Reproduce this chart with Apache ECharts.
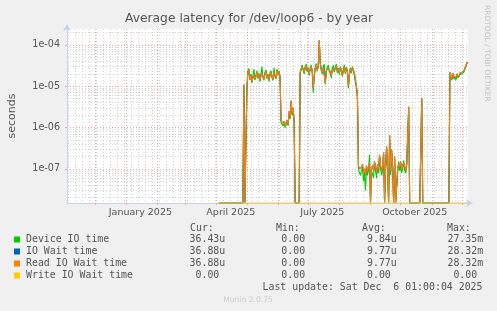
<!DOCTYPE html>
<html>
<head>
<meta charset="utf-8">
<title>Average latency for /dev/loop6 - by year</title>
<script src="https://cdn.jsdelivr.net/npm/echarts@6/dist/echarts.min.js"></script>
<style>
html, body { margin: 0; padding: 0; background: #f0f0f0; }
#main { width: 497px; height: 311px; }
</style>
</head>
<body>
<div id="main"></div>
<script>
// daily averages in microseconds, first value is dataStart, one per day
var dataStart = '2025-04-03';

var deviceIO = [
  0,0,0,0,0,0,0,0,0,0,0,0,0,0,0,0,0,0,0,0,0,0,0,0,0,
  10,0,0,8,24,27,
  16,20,12,18,26,14,19,24,15,21,13,20,30,16,14,22,25,15,20,13,21,24,16,14,28,17,15,26,18,24,16,
  1.3,1.2,1.1,1.3,1.0,1.2,1.4,1.1,
  2.2,1.6,4.0,2.0,2.6,1.3,
  0,0,0,0,0,
  20,
  27,33,24,20,30,35,22,29,18,28,33,22,7,16,29,36,23,31,125,38,24,20,30,34,11,22,29,
  33,23,20,16,28,32,22,29,35,21,28,19,30,23,17,26,33,20,29,22,9,18,28,21,30,23,18,
  12,9,5,
  0.10,0.08,0.07,0.09,0.11,0.05,0.08,0.03,0.10,0.07,0.09,0.22,
  0,
  0.09,0.10,0.06,0.14,0.09,0.06,0.11,0.08,0.20,0.10,0.07,0.09,0.23,
  0,
  0.10,0.32,0.08,0,0.60,0.07,0.30,0.09,
  0,0.18,0,0,0.08,
  0.15,0.09,0.13,0.08,0.10,0.16,0.09,0.08,0.11,0.10,
  3.0,
  0,0,0,0,0,0,0,0,0,0,0,0,
  5.0,
  0,0,0,0,0,0,0,0,0,0,0,0,0,0,0,0,0,0,0,0,0,0,0,0,0,0,0,
  20,
  16,14,19,15,17,14,18,16,15,19,17,20,18,22,26,30,36,36.43
];

var readWait = [
  0,0,0,0,0,0,0,0,0,0,0,0,0,0,0,0,0,0,0,0,0,0,0,0,0,
  11,0,0,9,22,25,
  14,18,13,16,20,15,17,22,16,19,14,18,21,17,15,20,23,16,18,14,19,22,17,15,21,18,16,24,19,22,17,
  1.5,1.3,1.2,1.4,1.1,1.3,1.5,1.2,
  2.5,1.8,4.5,2.2,3.0,1.5,
  0,0,0,0,0,
  22,
  25,30,26,22,28,32,24,27,20,26,30,24,9,18,27,33,25,29,130,35,26,22,28,31,12,24,27,
  30,25,22,18,26,29,24,27,32,23,26,21,28,25,19,24,30,22,27,24,10,20,26,23,28,25,20,
  14,10,6,
  0.12,0.10,0.09,0.11,0.13,0.08,0.10,0.07,0.12,0.09,0.11,0.14,
  0,
  0.10,0.12,0.09,0.15,0.11,0.08,0.13,0.10,0.22,0.12,0.09,0.11,0.25,
  0,
  0.12,0.35,0.10,0,0.65,0.09,0.28,0.11,
  0,0.20,0,0,0.10,
  0.13,0.11,0.15,0.10,0.12,0.14,0.11,0.09,0.13,0.12,
  3.2,
  0,0,0,0,0,0,0,0,0,0,0,0,
  5.2,
  0,0,0,0,0,0,0,0,0,0,0,0,0,0,0,0,0,0,0,0,0,0,0,0,0,0,0,
  22,
  18,15,21,17,19,16,20,18,17,21,19,22,20,24,28,32,38,36.88
];

// IO wait carries the same values as read IO wait
var ioWait = readWait;

var writeWait = [
  0,0,0,0,0,0,0,0,0,0,0,0,0,0,0,0,0,0,0,0,0,0,0,0,0,
  0,0,0,0,0,0,0,0,0,0,0,0,0,0,0,0,0,0,0,0,0,0,0,0,0,
  0,0,0,0,0,0,0,0,0,0,0,0,0,0,0,0,0,0,0,0,0,0,0,0,0,
  0,0,0,0,0,0,0,0,0,0,0,0,0,0,0,0,0,0,0,0,0,0,0,0,0,
  0,0,0,0,0,0,0,0,0,0,0,0,0,0,0,0,0,0,0,0,0,0,0,0,0,
  0,0,0,0,0,0,0,0,0,0,0,0,0,0,0,0,0,0,0,0,0,0,0,0,0,
  0,0,0,0,0,0,0,0,0,0,0,0,0,0,0,0,0,0,0,0,0,0,0,0,0,
  0,0,0,0,0,0,0,0,0,0,0,0,0,0,0,0,0,0,0,0,0,0,0,0,0,
  0,0,0,0,0,0,0,0,0,0,0,0,0,0,0,0,0,0,0,0,0,0,0,0,0,
  0,0,0,0,0,0,0,0,0,0,0,0,0,0,0,0,0,0,0,0,0,0,0,0
];

var seriesNames = ['Device IO time', 'IO Wait time', 'Read IO Wait time', 'Write IO Wait time'];
var seriesColors = ['#00cc00', '#0066b3', '#ff8000', '#ffcc00'];
var curText = ['36.43u', '36.88u', '36.88u', '0.00'];
var minText = ['0.00', '0.00', '0.00', '0.00'];
var avgText = ['9.84u', '9.77u', '9.77u', '0.00'];
var maxText = ['27.35m', '28.32m', '28.32m', '0.00'];

var xStart = '2024-11-03';
var xEnd = '2025-12-07';
var monthStarts = ['2024-12-01', '2025-01-01', '2025-02-01', '2025-03-01', '2025-04-01', '2025-05-01',
  '2025-06-01', '2025-07-01', '2025-08-01', '2025-09-01', '2025-10-01', '2025-11-01', '2025-12-01'];
var labelDates = ['2025-01-15', '2025-04-15', '2025-07-15', '2025-10-15'];
var labelTexts = ['January 2025', 'April 2025', 'July 2025', 'October 2025'];
var firstMonday = '2024-11-04';

var yMin = 1.49e-8, yMax = 2.44e-4;
var yDecades = [1e-7, 1e-6, 1e-5, 1e-4];

var DAY = 86400000;
function ts(s) {
  var p = s.split('-');
  return new Date(+p[0], +p[1] - 1, +p[2]).getTime();
}

var xMin = ts(xStart), xMax = ts(xEnd);
var monthTicks = monthStarts.map(ts);
var labelTicks = labelDates.map(ts);
var weekTicks = [];
for (var t = ts(firstMonday); t < xMax; t += 7 * DAY) weekTicks.push(t);

var yMinor = [];
[-8, -7, -6, -5, -4].forEach(function (e) {
  for (var m = 2; m <= 9; m++) {
    var v = m * Math.pow(10, e);
    if (v > yMin && v < yMax) yMinor.push(v);
  }
});

function toPoints(vals) {
  var t0 = ts(dataStart);
  return vals.map(function (v, i) {
    // zero cannot sit on a log axis, rrdtool draws it on the bottom edge
    return [t0 + i * DAY, v > 0 ? v * 1e-6 : yMin];
  });
}

var allValues = [deviceIO, ioWait, readWait, writeWait];

var myChart = echarts.init(document.getElementById('main'), null, { renderer: 'canvas' });

var mono = '9.9px "DejaVu Sans Mono"';
var graphics = [];
graphics.push({
  type: 'text', x: 249, y: 19,
  style: { text: 'Average latency for /dev/loop6 - by year', fill: '#555', font: '12.3px "DejaVu Sans"',
    align: 'center', verticalAlign: 'middle', textAlign: 'center', textVerticalAlign: 'middle' }
});
graphics.push({
  type: 'text', x: 486.5, y: 5, rotation: -Math.PI / 2,
  style: { text: 'RRDTOOL / TOBI OETIKER', fill: '#c4c4c4', font: '7.5px "DejaVu Sans"',
    align: 'left', verticalAlign: 'middle', textAlign: 'left', textVerticalAlign: 'middle' }
});
var heads = ['Cur:', 'Min:', 'Avg:', 'Max:'];
var headX = [190, 276, 362, 447];
var colRight = [219.3, 305.1, 390.8, 477.2];
heads.forEach(function (h, i) {
  graphics.push({ type: 'text', x: headX[i], y: 228.5,
    style: { text: h, fill: '#555', font: mono, align: 'left', verticalAlign: 'middle', textAlign: 'left', textVerticalAlign: 'middle' } });
});
var cols = [curText, minText, avgText, maxText];
seriesNames.forEach(function (name, r) {
  var y = 239.5 + r * 12;
  graphics.push({ type: 'rect', shape: { x: 14, y: y - 3, width: 6, height: 6 }, style: { fill: seriesColors[r] } });
  graphics.push({ type: 'text', x: 26, y: y,
    style: { text: name, fill: '#555', font: mono, align: 'left', verticalAlign: 'middle', textAlign: 'left', textVerticalAlign: 'middle' } });
  cols.forEach(function (col, c) {
    var s = col[r];
    var suf = /[um]$/.test(s) ? s.slice(-1) : '';
    var num = suf ? s.slice(0, -1) : s;
    graphics.push({ type: 'text', x: colRight[c], y: y,
      style: { text: num, fill: '#555', font: mono, align: 'right', verticalAlign: 'middle', textAlign: 'right', textVerticalAlign: 'middle' } });
    if (suf) {
      graphics.push({ type: 'text', x: colRight[c], y: y,
        style: { text: suf, fill: '#555', font: mono, align: 'left', verticalAlign: 'middle', textAlign: 'left', textVerticalAlign: 'middle' } });
    }
  });
});
graphics.push({ type: 'text', x: 482.5, y: 287.5,
  style: { text: 'Last update: Sat Dec  6 01:00:04 2025', fill: '#555', font: mono, align: 'right', verticalAlign: 'middle', textAlign: 'right', textVerticalAlign: 'middle' } });
graphics.push({ type: 'text', x: 248, y: 300,
  style: { text: 'Munin 2.0.75', fill: '#cccccc', font: '7.6px "DejaVu Sans"', align: 'center', verticalAlign: 'middle', textAlign: 'center', textVerticalAlign: 'middle' } });

var axisBlue = '#c9cff5';
var redGrid = { color: '#e6a8a8', width: 1, type: [1, 2] };
var grayGrid = { color: '#d2d2d2', width: 1, type: [1, 2] };

var option = {
  backgroundColor: '#f0f0f0',
  animation: false,
  grid: {
    left: 67, right: 29, top: 29, bottom: 108, containLabel: false, outerBoundsMode: 'none',
    show: true, backgroundColor: '#ffffff', borderWidth: 0
  },
  xAxis: [{
    type: 'value', min: xMin, max: xMax, position: 'bottom',
    axisLine: { show: false },
    axisTick: { show: false, customValues: weekTicks },
    axisLabel: { show: false },
    splitLine: { show: true, lineStyle: grayGrid }
  }, {
    type: 'value', min: xMin, max: xMax, position: 'bottom',
    axisLine: { show: true, lineStyle: { color: axisBlue, width: 1 }, symbol: ['none', 'arrow'], symbolSize: [6, 7], symbolOffset: [0, 5] },
    axisTick: { show: true, length: 2, lineStyle: { color: '#e6a8a8' }, customValues: monthTicks },
    axisLabel: {
      show: true, customValues: labelTicks, color: '#555', fontFamily: 'DejaVu Sans', fontSize: 9.5, margin: 5,
      formatter: function (v) { var i = labelTicks.indexOf(v); return i >= 0 ? labelTexts[i] : ''; }
    },
    splitLine: { show: true, lineStyle: redGrid }
  }],
  yAxis: [{
    type: 'log', min: yMin, max: yMax, position: 'left',
    axisLine: { show: false },
    axisTick: { show: false, customValues: yMinor },
    axisLabel: { show: false },
    splitLine: { show: true, lineStyle: grayGrid }
  }, {
    type: 'log', min: yMin, max: yMax, position: 'left', offset: 0,
    name: 'seconds', nameLocation: 'middle', nameGap: 49, nameRotate: 90,
    nameTextStyle: { color: '#555', fontFamily: 'DejaVu Sans', fontSize: 11 },
    axisLine: { show: true, lineStyle: { color: axisBlue, width: 1 }, symbol: ['none', 'arrow'], symbolSize: [6, 7], symbolOffset: [0, 5] },
    axisTick: { show: true, length: 2, lineStyle: { color: '#e6a8a8' }, customValues: yDecades },
    axisLabel: {
      show: true, customValues: yDecades, color: '#555', fontFamily: 'DejaVu Sans', fontSize: 9.6, margin: 7,
      formatter: function (v) { return '1e-' + String(-Math.round(Math.log10(v))).padStart(2, '0'); }
    },
    splitLine: { show: true, lineStyle: redGrid }
  }],
  series: allValues.map(function (vals, i) {
    return {
      name: seriesNames[i], type: 'line', xAxisIndex: 1, yAxisIndex: 1,
      data: toPoints(vals), showSymbol: false, symbol: 'none', clip: true,
      lineStyle: { color: seriesColors[i], width: 1.1 }, z: 3 + i
    };
  }),
  graphic: graphics
};
myChart.setOption(option);
</script>
</body>
</html>
